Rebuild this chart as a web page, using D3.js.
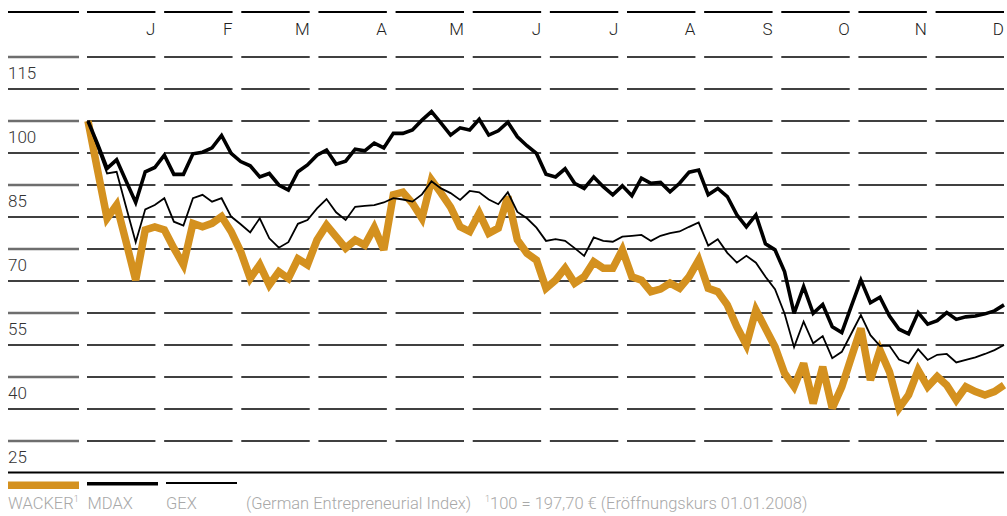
<!DOCTYPE html>
<html>
<head>
<meta charset="utf-8">
<script src="https://cdn.jsdelivr.net/npm/d3@7"></script>
<style>
  body { margin: 0; background: #fff; }
  text { font-family: "Roboto", "Liberation Sans", sans-serif; font-weight: 300; }
</style>
</head>
<body>
<div id="chart"></div>
<script>
// month labels and value labels
const months = ["J", "F", "M", "A", "M", "J", "J", "A", "S", "O", "N", "D"]
const tickLabels = [115, 100, 85, 70, 55, 40, 25]

// indexed to 100 at 01.01.2008
const wacker = [100, 88.5, 77.2, 80.3, 71.6, 62.7, 74.5, 75.2, 74.5, 70.2, 66.3, 76.0, 75.2, 76.0, 77.6, 74.1,
  69.4, 63.1, 66.3, 61.6, 64.7, 63.1, 67.7, 66.3, 72.1, 75.6, 72.9, 70.2, 72.1, 70.9, 75.0, 69.8,
  82.7, 83.3, 80.7, 77.2, 86.2, 83.1, 79.8, 75.2, 74.1, 78.4, 73.7, 74.9, 82.3, 72.1, 69.0, 67.4,
  60.8, 62.7, 65.5, 62.0, 63.5, 67.0, 65.5, 65.5, 69.8, 63.5, 62.7, 60.0, 60.6, 62.0, 60.8, 63.5,
  67.4, 60.8, 60.0, 56.9, 51.8, 47.5, 55.7, 51.4, 47.1, 40.9, 37.7, 43.2, 33.8, 42.4, 32.7, 37.7,
  44.6, 51.4, 39.3, 46.3, 41.2, 32.7, 35.8, 41.6, 37.7, 40.1, 38.1, 34.6, 37.7, 36.6, 35.8, 36.6, 38.1]

const mdax = [100, 94.6, 88.9, 90.9, 85.9, 80.9, 88.1, 89.1, 92.0, 87.5, 87.5, 92.3, 92.7, 93.7, 96.6, 92.4,
  90.5, 89.5, 86.9, 87.7, 85.0, 83.8, 88.1, 89.7, 92.0, 93.2, 89.9, 90.6, 93.4, 93.0, 94.8, 93.7,
  97.1, 97.1, 97.9, 100.2, 102.2, 99.5, 96.7, 98.4, 97.9, 100.4, 96.7, 97.7, 99.7, 96.3, 94.2, 92.4,
  87.5, 86.9, 88.8, 85.4, 84.2, 86.9, 84.6, 82.7, 84.8, 82.5, 86.6, 85.4, 85.6, 83.4, 85.4, 88.0,
  88.5, 82.7, 84.2, 82.3, 78.0, 75.2, 78.0, 71.2, 69.8, 64.7, 54.9, 61.2, 54.9, 57.0, 51.8, 50.4,
  56.6, 62.7, 57.4, 58.7, 54.3, 51.2, 50.1, 55.1, 52.4, 53.2, 55.1, 53.5, 54.1, 54.3, 54.8, 55.5, 56.9]

const gex = [100, 93.9, 87.7, 88.1, 79.8, 71.6, 79.3, 80.3, 81.9, 76.4, 75.5, 81.9, 82.7, 81.1, 81.9, 77.6,
  75.8, 73.9, 77.2, 72.5, 70.3, 71.6, 75.9, 76.8, 79.5, 81.7, 78.6, 76.8, 79.9, 80.1, 80.3, 80.9,
  81.9, 81.6, 81.1, 82.8, 85.9, 84.2, 83.1, 81.5, 83.6, 83.3, 81.6, 80.5, 83.3, 78.7, 77.2, 75.0,
  71.9, 72.3, 71.9, 70.2, 68.4, 72.7, 71.9, 71.7, 72.9, 73.1, 73.3, 71.9, 73.1, 73.7, 74.1, 75.2,
  76.2, 70.8, 72.3, 69.1, 66.8, 68.4, 66.8, 63.5, 60.6, 54.9, 47.0, 53.0, 47.9, 49.6, 44.4, 45.9,
  50.2, 54.5, 49.8, 47.3, 47.3, 44.1, 43.2, 46.5, 44.0, 45.2, 45.4, 43.4, 44.0, 44.6, 45.4, 46.3, 47.5]

const seriesNames = ["WACKER", "MDAX", "GEX"]
const footnote = "100 = 197,70 € (Eröffnungskurs 01.01.2008)"
const gexNote = "(German Entrepreneurial Index)"

const width = 1007
const height = 516
const orange = "#d4911f"

const svg = d3.select("#chart").append("svg")
  .attr("width", width)
  .attr("height", height)

const y = d3.scaleLinear().domain([25, 115]).range([441, 57])
const x = d3.scaleLinear().domain([0, wacker.length - 1]).range([88, 1004])
const col = d3.scaleBand().domain(d3.range(12)).range([87, 1004]).paddingInner(0.113)
const labelCol = [8, 79]
const gridValues = d3.range(25, 116, 7.5)

// columns: label column + 12 month columns
const cols = [{ x0: labelCol[0], x1: labelCol[1], label: true }]
  .concat(d3.range(12).map(i => ({ x0: col(i), x1: col(i) + col.bandwidth(), label: false })))

const grid = svg.append("g")

// top rule
grid.selectAll(".top")
  .data(cols)
  .enter()
  .append("line")
  .attr("x1", d => d.x0)
  .attr("x2", d => d.x1)
  .attr("y1", 12)
  .attr("y2", 12)
  .attr("stroke", "#000")
  .attr("stroke-width", 2)

cols.forEach(c => {
  grid.selectAll(null)
    .data(gridValues)
    .enter()
    .append("line")
    .attr("x1", c.x0)
    .attr("x2", c.x1)
    .attr("y1", d => y(d))
    .attr("y2", d => y(d))
    .attr("stroke", d => (c.label && tickLabels.includes(d)) ? "#6e6e6e" : "#000")
    .attr("stroke-width", d => (c.label && tickLabels.includes(d)) ? 2.4 : 1.3)
})

// bottom rule
grid.append("line")
  .attr("x1", 8)
  .attr("x2", 1004)
  .attr("y1", 472.5)
  .attr("y2", 472.5)
  .attr("stroke", "#000")
  .attr("stroke-width", 2)

// month labels
svg.append("g")
  .selectAll("text")
  .data(months)
  .enter()
  .append("text")
  .attr("x", (d, i) => col(i) + col.bandwidth())
  .attr("y", 35)
  .attr("text-anchor", "end")
  .attr("font-size", 17)
  .attr("fill", "#222")
  .text(d => d)

// value labels
svg.append("g")
  .selectAll("text")
  .data(tickLabels)
  .enter()
  .append("text")
  .attr("x", 8)
  .attr("y", d => y(d) + 22)
  .attr("font-size", 17)
  .attr("fill", "#333")
  .text(d => d)

// lines
const line = d3.line()
  .x((d, i) => x(i))
  .y(d => y(d))

svg.append("path")
  .datum(wacker)
  .attr("fill", "none")
  .attr("stroke", orange)
  .attr("stroke-width", 7.5)
  .attr("stroke-linejoin", "miter")
  .attr("stroke-miterlimit", 3)
  .attr("d", line)

svg.append("path")
  .datum(gex)
  .attr("fill", "none")
  .attr("stroke", "#000")
  .attr("stroke-width", 1.8)
  .attr("d", line)

svg.append("path")
  .datum(mdax)
  .attr("fill", "none")
  .attr("stroke", "#000")
  .attr("stroke-width", 3.6)
  .attr("stroke-miterlimit", 3)
  .attr("d", line)

// legend
const legend = svg.append("g")
legend.append("rect").attr("x", 8).attr("y", 481.5).attr("width", 71).attr("height", 7.5).attr("fill", orange)
legend.append("rect").attr("x", 87).attr("y", 482).attr("width", 71).attr("height", 3.5).attr("fill", "#000")
legend.append("rect").attr("x", 166).attr("y", 482).attr("width", 71).attr("height", 2).attr("fill", "#000")

const legendText = legend.append("g")
  .attr("font-size", 16.5)
  .attr("fill", "#a8a8a8")

const wt = legendText.append("text").attr("x", 8).attr("y", 509)
wt.append("tspan").text(seriesNames[0])
wt.append("tspan").attr("font-size", 9).attr("dy", -7).text("1")

legendText.append("text").attr("x", 87.5).attr("y", 509).text(seriesNames[1])
legendText.append("text").attr("x", 166).attr("y", 509).text(seriesNames[2])
legendText.append("text").attr("x", 246).attr("y", 509).text(gexNote)

const fn = legendText.append("text").attr("x", 485).attr("y", 509)
fn.append("tspan").attr("font-size", 9).attr("dy", -7).text("1")
fn.append("tspan").attr("dy", 7).text(footnote)
</script>
</body>
</html>
